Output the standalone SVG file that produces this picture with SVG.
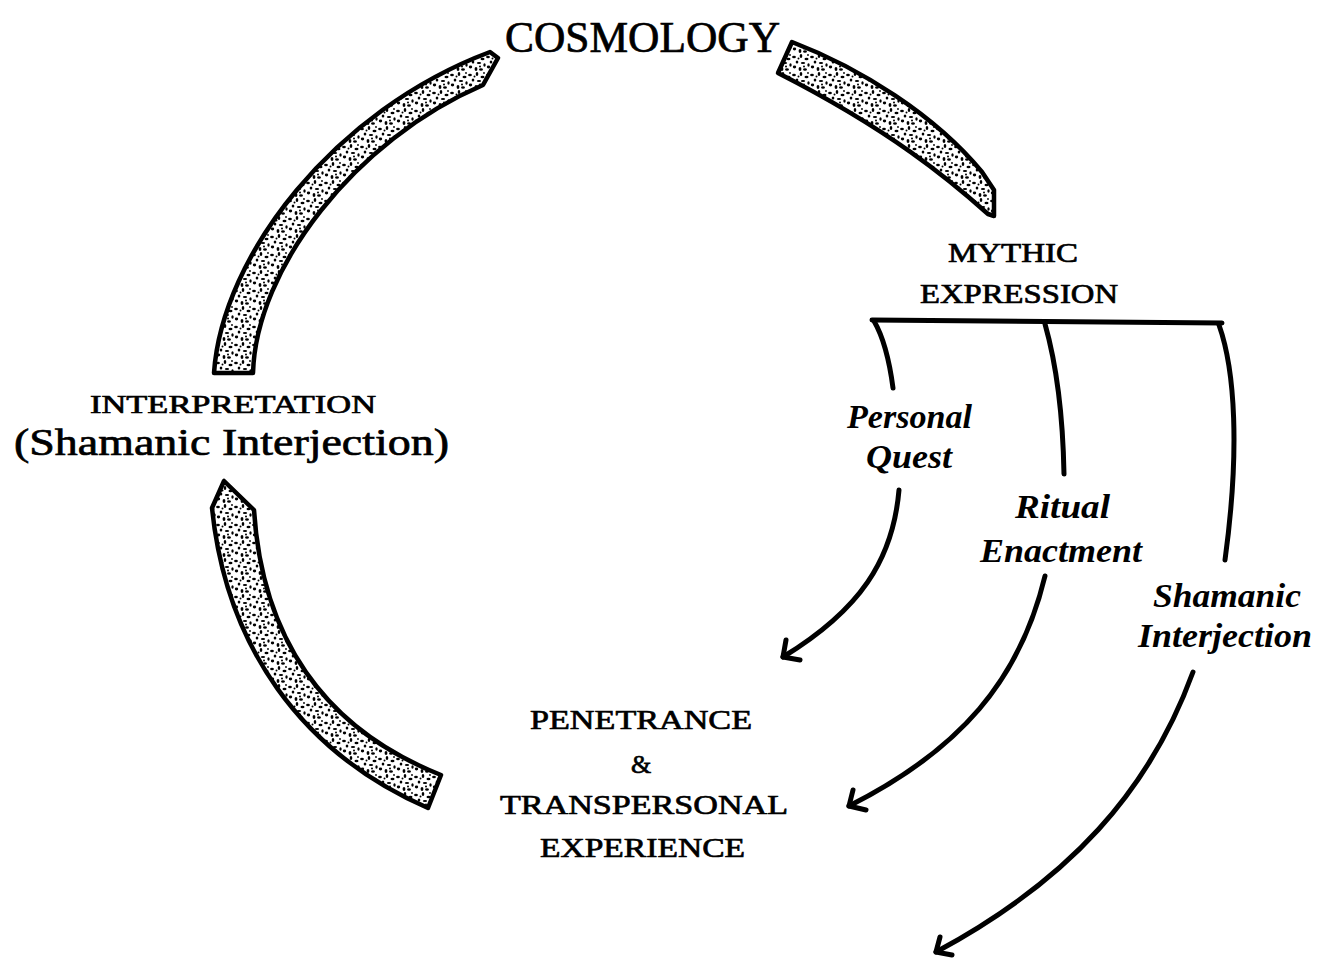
<svg xmlns="http://www.w3.org/2000/svg" width="1317" height="959" viewBox="0 0 1317 959">
<style>
  .band { fill: url(#stip); stroke: #000; stroke-width: 4.5; stroke-linejoin: round; }
  .con { fill: none; stroke: #000; stroke-width: 5; stroke-linecap: round; stroke-linejoin: round; }
  .cap { font-family: "Liberation Serif", "DejaVu Serif", serif; fill: #000; stroke: #000; stroke-width: 0.7; }
  .it { font-family: "Liberation Serif", "DejaVu Serif", serif; font-style: italic; font-weight: bold; fill: #000; }
</style>
<defs>
  <pattern id="stip" patternUnits="userSpaceOnUse" width="18" height="18">
    <rect width="18" height="18" fill="#fff"/>
    <ellipse cx="2" cy="3" rx="1.9" ry="1.2" fill="#000"/>
    <ellipse cx="9" cy="2" rx="1.3" ry="1.9" fill="#000"/>
    <ellipse cx="14.5" cy="5" rx="2" ry="1.2" fill="#000"/>
    <ellipse cx="5" cy="8" rx="1.3" ry="1.6" fill="#000"/>
    <ellipse cx="11" cy="9" rx="2.2" ry="1.1" fill="#000"/>
    <ellipse cx="16.5" cy="11" rx="1.2" ry="1.7" fill="#000"/>
    <ellipse cx="2.5" cy="13" rx="1.7" ry="1.4" fill="#000"/>
    <ellipse cx="8" cy="15" rx="1.4" ry="2" fill="#000"/>
    <ellipse cx="13" cy="15.5" rx="1.9" ry="1.2" fill="#000"/>
    <circle cx="6.5" cy="4.5" r="1" fill="#000"/>
    <circle cx="12" cy="12.5" r="1" fill="#000"/>
    <circle cx="16" cy="1" r="0.9" fill="#000"/>
  </pattern>
</defs>
<rect width="1317" height="959" fill="#fff"/>

<g id="band-upper-left">
  <path class="band" d="M 214,373 C 222,255 335,110 490,52 L 498,58 L 483,85 C 355,140 256,268 253,373 Z"/>
</g>
<g id="band-right">
  <path class="band" d="M 792,42 C 860,68 935,115 982,172 L 994,190 L 994,216 L 988,214 C 950,180 890,130 778,73 Z"/>
</g>
<g id="band-lower-left">
  <path class="band" d="M 224,481 L 212,508 C 226,645 300,752 428,808 L 441,775 C 322,728 262,636 254,510 Z"/>
</g>

<g id="node-cosmology">
  <text class="cap" x="505" y="52" font-size="44" textLength="275" lengthAdjust="spacingAndGlyphs">COSMOLOGY</text>
</g>
<g id="node-mythic">
  <text class="cap" x="948" y="262" font-size="27" textLength="130" lengthAdjust="spacingAndGlyphs">MYTHIC</text>
  <text class="cap" x="920" y="303" font-size="27" textLength="198" lengthAdjust="spacingAndGlyphs">EXPRESSION</text>
</g>
<g id="node-interpretation">
  <text class="cap" x="90" y="413" font-size="26" textLength="286" lengthAdjust="spacingAndGlyphs">INTERPRETATION</text>
  <text class="cap" x="14" y="455" font-size="38" textLength="435" lengthAdjust="spacingAndGlyphs">(Shamanic Interjection)</text>
</g>
<g id="node-penetrance">
  <text class="cap" x="530" y="729" font-size="28" textLength="222" lengthAdjust="spacingAndGlyphs">PENETRANCE</text>
  <text class="cap" x="641" y="773" font-size="26" text-anchor="middle">&amp;</text>
  <text class="cap" x="500" y="814" font-size="28" textLength="288" lengthAdjust="spacingAndGlyphs">TRANSPERSONAL</text>
  <text class="cap" x="540" y="857" font-size="28" textLength="205" lengthAdjust="spacingAndGlyphs">EXPERIENCE</text>
</g>
<g id="node-personal-quest">
  <text class="it" x="847" y="428" font-size="33" textLength="125" lengthAdjust="spacingAndGlyphs">Personal</text>
  <text class="it" x="866" y="468" font-size="33" textLength="86" lengthAdjust="spacingAndGlyphs">Quest</text>
</g>
<g id="node-ritual">
  <text class="it" x="1015" y="518" font-size="33" textLength="95" lengthAdjust="spacingAndGlyphs">Ritual</text>
  <text class="it" x="980" y="562" font-size="33" textLength="162" lengthAdjust="spacingAndGlyphs">Enactment</text>
</g>
<g id="node-shamanic">
  <text class="it" x="1153" y="607" font-size="33" textLength="148" lengthAdjust="spacingAndGlyphs">Shamanic</text>
  <text class="it" x="1138" y="647" font-size="33" textLength="174" lengthAdjust="spacingAndGlyphs">Interjection</text>
</g>

<g id="connectors">
  <path class="con" d="M 872,320 L 1222,323"/>
  <path class="con" d="M 874,321 C 885,340 890,365 893,388"/>
  <path class="con" d="M 1045,324 C 1058,370 1063,420 1064,474"/>
  <path class="con" d="M 1219,325 C 1235,370 1240,450 1225,560"/>
  <path class="con" d="M 899,490 C 893,560 860,610 783,657"/>
  <path class="con" d="M 786,640 L 783,657 L 800,660"/>
  <path class="con" d="M 1045,576 C 1020,680 960,750 849,806"/>
  <path class="con" d="M 853,790 L 849,806 L 866,810"/>
  <path class="con" d="M 1193,672 C 1150,790 1070,880 936,952"/>
  <path class="con" d="M 940,937 L 936,952 L 952,955"/>
</g>
</svg>
